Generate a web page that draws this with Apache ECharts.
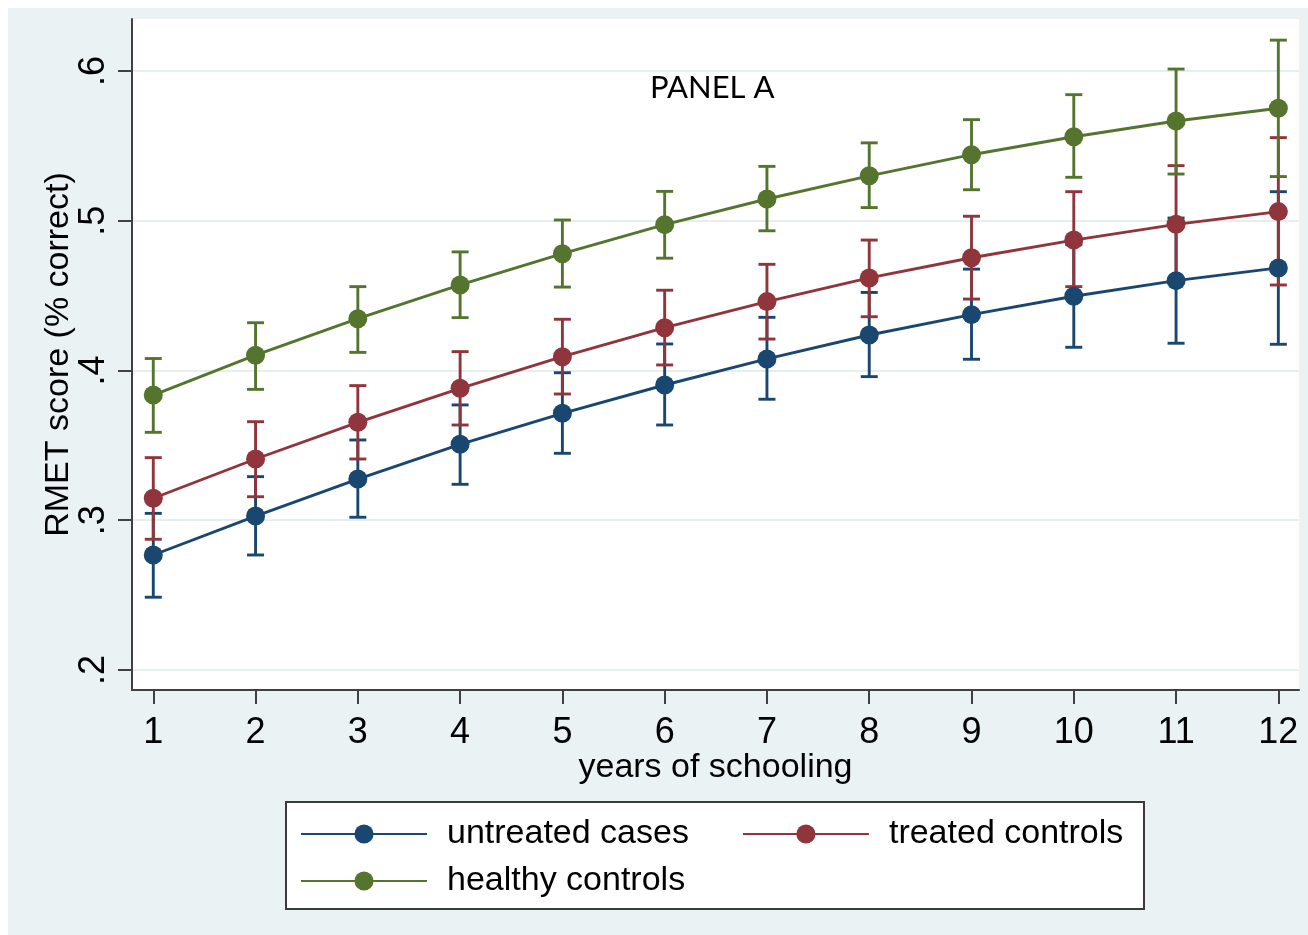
<!DOCTYPE html>
<html>
<head>
<meta charset="utf-8">
<script src="https://cdn.jsdelivr.net/npm/echarts@6/dist/echarts.min.js"></script>
<style>
  html, body { margin: 0; padding: 0; background: #ffffff; }
  #chart { width: 1308px; height: 935px; }
</style>
</head>
<body>
<div id="chart"></div>
<script>
// Years of schooling on the x axis
const years = [1, 2, 3, 4, 5, 6, 7, 8, 9, 10, 11, 12];
const yTicks = [0.2, 0.3, 0.4, 0.5, 0.6];

// Predicted RMET score with 95% confidence limits
const untreatedMean = [0.2768, 0.3028, 0.3275, 0.3507, 0.3714, 0.3903, 0.4077, 0.4237, 0.4373, 0.4496, 0.4600, 0.4685];
const untreatedLow  = [0.2486, 0.2768, 0.3020, 0.3240, 0.3447, 0.3636, 0.3808, 0.3959, 0.4075, 0.4155, 0.4182, 0.4175];
const untreatedHigh = [0.3046, 0.3291, 0.3536, 0.3770, 0.3985, 0.4177, 0.4355, 0.4521, 0.4677, 0.4840, 0.5018, 0.5194];

const treatedMean = [0.3147, 0.3409, 0.3654, 0.3881, 0.4092, 0.4286, 0.4460, 0.4618, 0.4753, 0.4871, 0.4976, 0.5061];
const treatedLow  = [0.2873, 0.3157, 0.3409, 0.3636, 0.3843, 0.4037, 0.4210, 0.4359, 0.4477, 0.4560, 0.4584, 0.4571];
const treatedHigh = [0.3418, 0.3658, 0.3899, 0.4126, 0.4342, 0.4536, 0.4709, 0.4871, 0.5030, 0.5194, 0.5368, 0.5555];

const healthyMean = [0.3836, 0.4102, 0.4346, 0.4571, 0.4780, 0.4974, 0.5145, 0.5300, 0.5441, 0.5561, 0.5666, 0.5751];
const healthyLow  = [0.3587, 0.3874, 0.4121, 0.4353, 0.4557, 0.4750, 0.4933, 0.5088, 0.5207, 0.5290, 0.5312, 0.5295];
const healthyHigh = [0.4080, 0.4319, 0.4560, 0.4792, 0.5005, 0.5196, 0.5363, 0.5520, 0.5675, 0.5842, 0.6013, 0.6206];

const groups = [
  { name: 'untreated cases',  color: '#1A476F', mean: untreatedMean, low: untreatedLow, high: untreatedHigh },
  { name: 'treated controls', color: '#90353B', mean: treatedMean,   low: treatedLow,   high: treatedHigh },
  { name: 'healthy controls', color: '#55752F', mean: healthyMean,   low: healthyLow,   high: healthyHigh }
];

const FONT = 'Liberation Sans, Arial, sans-serif';
const AXIS_COLOR = '#404040';
const LINE_W = 2.9;

// Range capped error bar drawn through the axis scales
function capRenderer(params, api) {
  const x = api.value(0);
  const top = api.coord([x, api.value(2)]);
  const bot = api.coord([x, api.value(1)]);
  const half = 8.5;
  const style = { stroke: api.visual('color'), lineWidth: LINE_W };
  return {
    type: 'group',
    children: [
      { type: 'line', shape: { x1: top[0], y1: top[1], x2: bot[0], y2: bot[1] }, style: style },
      { type: 'line', shape: { x1: top[0] - half, y1: top[1], x2: top[0] + half, y2: top[1] }, style: style },
      { type: 'line', shape: { x1: bot[0] - half, y1: bot[1], x2: bot[0] + half, y2: bot[1] }, style: style }
    ]
  };
}

const series = [];
groups.forEach(g => {
  series.push({
    name: g.name + ' CI',
    type: 'custom',
    renderItem: capRenderer,
    itemStyle: { color: g.color },
    data: years.map((x, i) => [x, g.low[i], g.high[i]]),
    z: 2,
    silent: true
  });
});
groups.forEach(g => {
  series.push({
    name: g.name,
    type: 'line',
    data: years.map((x, i) => [x, g.mean[i]]),
    symbol: 'circle',
    symbolSize: 19,
    showSymbol: true,
    color: g.color,
    itemStyle: { color: g.color },
    lineStyle: { color: g.color, width: LINE_W },
    z: 3
  });
});

const legendCommon = {
  orient: 'horizontal',
  left: 300,
  padding: 0,
  itemWidth: 126,
  itemHeight: 24,
  itemGap: 53,
  textStyle: { fontFamily: FONT, fontSize: 34, color: '#000', lineHeight: 34, padding: [0, 0, 0, 15] },
  selectedMode: false
};

const option = {
  backgroundColor: '#ffffff',
  animation: false,
  graphic: [
    { type: 'rect', z: -100, silent: true, shape: { x: 8, y: 8, width: 1300, height: 927 }, style: { fill: '#EAF2F3' } },
    { type: 'rect', z: -50, silent: true, shape: { x: 286, y: 802, width: 858, height: 107 }, style: { fill: '#ffffff', stroke: '#3a3a3a', lineWidth: 2 } }
  ],
  title: {
    text: 'PANEL A',
    left: 650,
    top: 72,
    padding: 0,
    textStyle: { fontFamily: 'Lato, Open Sans, sans-serif', fontSize: 31, fontWeight: 'normal', color: '#000' }
  },
  legend: [
    Object.assign({}, legendCommon, { top: 817, data: ['untreated cases', 'treated controls'] }),
    Object.assign({}, legendCommon, { top: 864, data: ['healthy controls'] })
  ],
  grid: {
    left: 132, right: 9, top: 19, bottom: 245,
    show: true, backgroundColor: '#ffffff', borderWidth: 0
  },
  xAxis: {
    type: 'value',
    min: 0.792,
    max: 12.202,
    name: 'years of schooling',
    nameLocation: 'middle',
    nameGap: 61,
    nameMoveOverlap: false,
    nameTextStyle: { fontFamily: FONT, fontSize: 34, color: '#000' },
    axisLine: { show: true, lineStyle: { color: AXIS_COLOR, width: 2 } },
    axisTick: { show: true, length: 14, lineStyle: { color: AXIS_COLOR, width: 2 }, customValues: years },
    axisLabel: { customValues: years, margin: 25, fontFamily: FONT, fontSize: 36, color: '#000' },
    splitLine: { show: false }
  },
  yAxis: {
    type: 'value',
    min: 0.18664,
    max: 0.63472,
    name: 'RMET score (% correct)',
    nameLocation: 'middle',
    nameRotate: 90,
    nameGap: 56,
    nameMoveOverlap: false,
    nameTextStyle: { fontFamily: FONT, fontSize: 34, color: '#000' },
    axisLine: { show: true, lineStyle: { color: AXIS_COLOR, width: 2 } },
    axisTick: { show: true, length: 14, lineStyle: { color: AXIS_COLOR, width: 2 }, customValues: yTicks },
    axisLabel: {
      customValues: yTicks,
      rotate: 90,
      margin: 20,
      fontFamily: FONT, fontSize: 36, color: '#000',
      formatter: v => v.toFixed(1).replace(/^0/, '')
    },
    splitLine: { show: true, lineStyle: { color: '#E6EEF0', width: 2 } }
  },
  series: series
};

const chart = echarts.init(document.getElementById('chart'), null, { renderer: 'canvas' });
chart.setOption(option);
</script>
</body>
</html>
